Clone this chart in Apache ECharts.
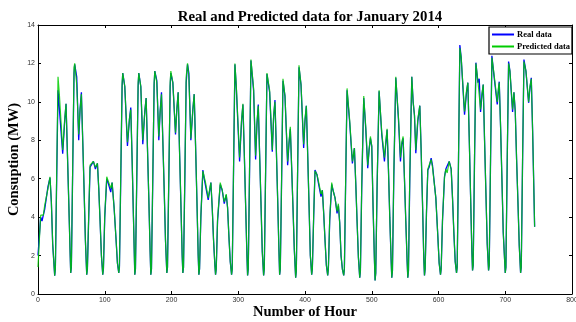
<!DOCTYPE html>
<html>
<head>
<meta charset="utf-8">
<script src="https://cdn.jsdelivr.net/npm/echarts@6/dist/echarts.min.js"></script>
<style>
  html, body { margin: 0; padding: 0; background: #fff; }
  #chart { width: 576px; height: 322px; }
</style>
</head>
<body>
<div id="chart"></div>
<script>
// key points, one line per day
var hours = [
  0,2,4,6,8,10,12,15,18,20,22,
  25,26,28,30,32,37,40,42,44,46,48,
  49,50,52,54,55,58,61,63,65,67,69,71,
  73,74,76,78,80,83,86,89,91,93,95,
  97,98,100,103,105,107,109,111,114,117,119,
  121,122,124,126,127,130,134,137,139,141,143,
  145,146,148,150,151,154,157,160,162,164,166,168,
  169,170,172,174,175,178,181,183,185,187,189,191,
  193,194,196,198,199,202,206,208,210,212,214,216,
  217,218,220,222,224,226,229,232,234,236,238,240,
  241,242,244,247,249,251,255,259,261,263,265,
  266,267,269,273,276,279,282,284,286,288,
  290,291,293,295,297,302,305,307,309,311,313,
  314,315,317,319,323,326,328,330,332,334,336,
  338,339,341,343,347,351,353,355,357,359,361,
  362,363,365,367,370,374,376,378,380,382,384,
  386,387,389,391,394,398,400,402,404,406,408,
  410,411,413,415,418,420,424,426,428,430,432,
  434,435,437,440,442,445,448,450,452,454,456,
  458,459,461,463,467,471,474,476,478,480,
  482,483,485,488,491,494,496,498,500,502,504,
  505,506,508,511,515,519,521,523,525,527,529,
  530,531,533,536,540,543,545,547,549,551,553,
  554,555,557,560,562,564,566,569,572,574,576,578,
  579,580,582,584,586,589,591,593,596,599,601,
  603,604,606,609,611,613,616,619,621,623,625,
  627,628,630,632,634,639,642,644,646,648,650,
  651,652,654,656,659,661,663,665,667,669,671,673,
  675,676,678,680,683,688,690,691,693,695,697,
  700,701,703,705,707,711,713,715,717,719,721,
  723,724,726,728,731,735,737,739,741,743,744
];

var realMW = [
  2.0,3.0,4.0,3.8,4.1,4.4,4.5,5.6,6.05,4.8,2.6,
  0.95,1.3,6.0,10.6,10.7,7.3,9.0,9.9,7.4,4.9,2.3,
  1.1,1.4,6.5,11.5,11.95,11.3,8.0,9.6,10.5,8.0,5.5,2.8,
  1.0,1.3,4.0,6.6,6.7,6.9,6.5,6.8,5.5,3.8,2.0,
  1.0,1.3,4.0,6.0,5.8,5.9,5.3,5.8,4.5,2.8,1.6,
  1.1,1.4,6.0,10.8,11.5,10.8,7.7,9.1,9.7,7.0,4.0,
  1.0,1.3,6.0,10.8,11.5,10.8,7.8,9.5,10.2,7.6,5.0,2.2,
  1.0,1.3,6.0,10.9,11.6,11.1,8.0,9.5,10.5,8.0,5.5,2.8,
  1.1,1.4,6.0,10.8,11.5,11.0,8.3,9.6,10.5,7.5,4.8,2.0,
  1.1,1.4,6.0,11.0,11.95,11.5,8.0,9.6,10.4,7.8,5.0,2.0,
  1.0,1.3,4.0,6.45,6.0,5.9,4.9,5.8,4.5,2.8,1.5,
  1.0,1.3,3.8,5.7,5.4,4.7,5.15,4.5,3.0,1.7,
  1.0,1.3,6.5,11.95,10.8,6.9,9.0,9.86,7.4,4.7,2.0,
  0.97,1.3,6.5,12.15,10.6,7.0,8.8,9.86,7.3,4.8,2.2,
  0.97,1.3,6.3,11.45,10.5,7.4,9.2,10.1,7.6,5.0,2.2,
  1.0,1.3,6.0,11.1,10.3,6.7,7.8,8.6,6.6,4.5,2.3,
  0.85,1.2,6.5,11.8,10.9,7.6,9.0,9.8,7.3,4.7,2.0,
  1.0,1.3,4.0,6.45,6.2,5.8,5.07,5.4,4.2,2.8,1.5,
  0.97,1.3,3.8,5.7,5.4,5.0,4.2,4.6,3.7,2.0,1.3,
  0.97,1.3,6.0,10.6,8.9,6.8,7.6,5.8,3.8,1.9,
  0.85,1.2,5.5,10.2,8.6,6.55,7.5,8.1,7.7,4.5,1.8,
  0.71,1.1,5.5,10.55,8.3,6.9,7.8,8.55,6.5,4.0,1.8,
  0.85,1.2,6.0,11.25,9.1,6.9,7.8,8.1,6.0,3.8,1.7,
  0.85,1.2,6.0,11.3,10.0,9.3,7.33,9.0,9.8,7.5,4.8,1.8,
  0.97,1.3,4.2,6.45,6.6,7.07,6.7,6.6,5.0,3.0,1.6,
  1.0,1.3,3.8,6.1,6.5,6.4,6.9,6.5,5.0,3.2,1.7,
  1.1,1.4,7.0,12.96,12.3,9.33,10.5,11.0,8.2,5.2,2.2,
  1.23,1.5,7.0,12.04,11.0,11.2,9.47,10.3,10.9,8.0,5.3,2.6,
  1.23,1.5,7.0,12.4,11.4,9.86,10.7,11.05,8.7,6.0,3.2,
  1.1,1.4,7.0,12.1,11.6,9.47,10.5,9.5,7.0,4.8,2.5,
  1.1,1.4,7.0,12.2,11.6,9.95,10.7,11.25,8.5,5.2,3.5
];

var predMW = [
  1.4,2.8,4.1,4.0,4.1,4.6,4.7,5.5,6.1,4.8,2.6,
  0.95,1.3,6.3,11.3,10.4,7.5,9.1,9.9,7.4,4.9,2.3,
  1.1,1.4,6.7,11.8,12.0,10.9,8.3,9.6,10.4,8.0,5.5,2.8,
  1.0,1.3,4.2,6.7,6.6,6.9,6.6,6.8,5.5,3.8,2.0,
  1.0,1.3,4.1,6.1,5.9,5.8,5.5,5.8,4.5,2.8,1.6,
  1.1,1.4,6.3,11.0,11.5,10.8,7.9,9.1,9.6,7.0,4.0,
  1.0,1.3,6.3,11.0,11.5,10.8,8.0,9.5,10.2,7.6,5.0,2.2,
  1.0,1.3,6.3,11.0,11.6,11.0,8.2,9.5,10.4,8.0,5.5,2.8,
  1.1,1.4,6.3,11.0,11.6,11.0,8.4,9.6,10.5,7.5,4.8,2.0,
  1.1,1.4,6.3,11.3,12.0,11.3,8.1,9.6,10.4,7.8,5.0,2.0,
  1.0,1.3,4.1,6.4,6.1,5.8,5.0,5.8,4.5,2.8,1.5,
  1.0,1.3,3.9,5.8,5.4,4.8,5.2,4.5,3.0,1.7,
  1.0,1.3,6.7,12.0,10.9,7.1,9.1,9.9,7.4,4.7,2.0,
  0.97,1.3,6.7,12.2,10.7,7.2,8.9,9.8,7.3,4.8,2.2,
  0.97,1.3,6.5,11.5,10.6,7.5,9.3,10.0,7.6,5.0,2.2,
  1.0,1.3,6.2,11.2,10.3,6.9,7.9,8.7,6.6,4.5,2.3,
  0.85,1.2,6.7,11.9,10.9,7.8,9.1,9.8,7.3,4.7,2.0,
  1.0,1.3,4.1,6.4,6.2,5.9,5.2,5.4,4.2,2.8,1.5,
  0.97,1.3,3.9,5.8,5.4,5.0,4.3,4.7,3.7,2.0,1.3,
  0.97,1.3,6.2,10.7,9.0,6.9,7.6,5.8,3.8,1.9,
  0.85,1.2,5.7,10.3,8.7,6.7,7.5,8.2,7.7,4.5,1.8,
  0.71,1.1,5.7,10.6,8.4,7.1,7.9,8.6,6.5,4.0,1.8,
  0.85,1.2,6.2,11.3,9.2,7.1,7.9,8.2,6.0,3.8,1.7,
  0.85,1.2,6.2,11.3,10.0,9.3,7.5,9.1,9.8,7.5,4.8,1.8,
  0.97,1.3,4.3,6.5,6.7,7.0,6.6,6.6,5.0,3.0,1.6,
  1.0,1.3,3.9,6.1,6.5,6.3,6.9,6.5,5.0,3.2,1.7,
  1.1,1.4,7.2,12.8,12.3,9.5,10.6,11.0,8.2,5.2,2.2,
  1.23,1.5,7.2,12.0,11.1,11.2,9.6,10.4,10.9,8.0,5.3,2.6,
  1.23,1.5,7.2,12.3,11.5,10.0,10.8,11.0,8.7,6.0,3.2,
  1.1,1.4,7.2,12.0,11.6,9.6,10.5,9.5,7.0,4.8,2.5,
  1.1,1.4,7.2,12.1,11.6,10.0,10.8,11.2,8.5,5.2,3.5
];

var xTicks = [0, 100, 200, 300, 400, 500, 600, 700, 800];
var yTicks = [0, 2, 4, 6, 8, 10, 12, 14];

var realData = hours.map(function (h, i) { return [h, realMW[i]]; });
var predData = hours.map(function (h, i) { return [h, predMW[i]]; });

var serif = "'Liberation Serif', 'Times New Roman', serif";
var tickLabel = { fontFamily: "'Liberation Sans', Arial, sans-serif", fontSize: 7, color: '#333' };

var myChart = echarts.init(document.getElementById('chart'), null, { renderer: 'canvas' });

var option = {
  animation: false,
  backgroundColor: '#fff',
  title: {
    text: 'Real and Predicted data for January 2014',
    left: 305,
    textAlign: 'center',
    top: 5,
    textStyle: { fontFamily: serif, fontWeight: 'bold', fontSize: 14.8, color: '#000' }
  },
  legend: {
    data: ['Real data', 'Predicted data'],
    orient: 'vertical',
    left: 489,
    top: 27,
    backgroundColor: '#fff',
    borderColor: '#000',
    borderWidth: 1.2,
    borderRadius: 0,
    padding: [3, 2, 3, 3],
    itemGap: 3,
    itemWidth: 22,
    itemHeight: 2,
    icon: 'rect',
    textStyle: { fontFamily: serif, fontWeight: 'bold', fontSize: 8.5, color: '#000', padding: [0, 0, 0, -2] }
  },
  grid: { left: 38, right: 4, top: 25, bottom: 28, containLabel: false, outerBoundsMode: 'none' },
  xAxis: [
    {
      type: 'value', min: 0, max: 800, interval: 100,
      name: 'Number of Hour', nameLocation: 'middle', nameGap: 11, nameMoveOverlap: false,
      nameTextStyle: { fontFamily: serif, fontWeight: 'bold', fontSize: 14.5, color: '#000' },
      axisLine: { onZero: false, lineStyle: { color: '#000', width: 1 } },
      axisTick: { inside: true, length: 3, lineStyle: { color: '#000' } },
      axisLabel: Object.assign({ margin: 3, formatter: function (v) { return xTicks.indexOf(v) >= 0 ? v : ''; } }, tickLabel),
      splitLine: { show: false }
    },
    {
      type: 'value', position: 'top', min: 0, max: 800, interval: 100,
      axisLine: { onZero: false, lineStyle: { color: '#000', width: 1 } },
      axisTick: { inside: true, length: 3, lineStyle: { color: '#000' } },
      axisLabel: { show: false },
      splitLine: { show: false }
    }
  ],
  yAxis: [
    {
      type: 'value', min: 0, max: 14, interval: 2,
      name: 'Consuption (MW)', nameLocation: 'middle', nameGap: 16, nameMoveOverlap: false,
      nameTextStyle: { fontFamily: serif, fontWeight: 'bold', fontSize: 14.5, color: '#000' },
      axisLine: { show: true, onZero: false, lineStyle: { color: '#000', width: 1 } },
      axisTick: { show: true, inside: true, length: 3, lineStyle: { color: '#000' } },
      axisLabel: Object.assign({ margin: 3, formatter: function (v) { return yTicks.indexOf(v) >= 0 ? v : ''; } }, tickLabel),
      splitLine: { show: false }
    },
    {
      type: 'value', position: 'right', min: 0, max: 14, interval: 2,
      axisLine: { show: true, onZero: false, lineStyle: { color: '#000', width: 1 } },
      axisTick: { show: true, inside: true, length: 3, lineStyle: { color: '#000' } },
      axisLabel: { show: false },
      splitLine: { show: false }
    }
  ],
  series: [
    {
      name: 'Real data',
      type: 'line',
      data: realData,
      showSymbol: false,
      color: '#0000ff',
      lineStyle: { color: '#0000ff', width: 1.3 }
    },
    {
      name: 'Predicted data',
      type: 'line',
      data: predData,
      showSymbol: false,
      color: '#00cc00',
      lineStyle: { color: '#00cc00', width: 1.2, opacity: 0.85 }
    }
  ]
};

myChart.setOption(option);
</script>
</body>
</html>
